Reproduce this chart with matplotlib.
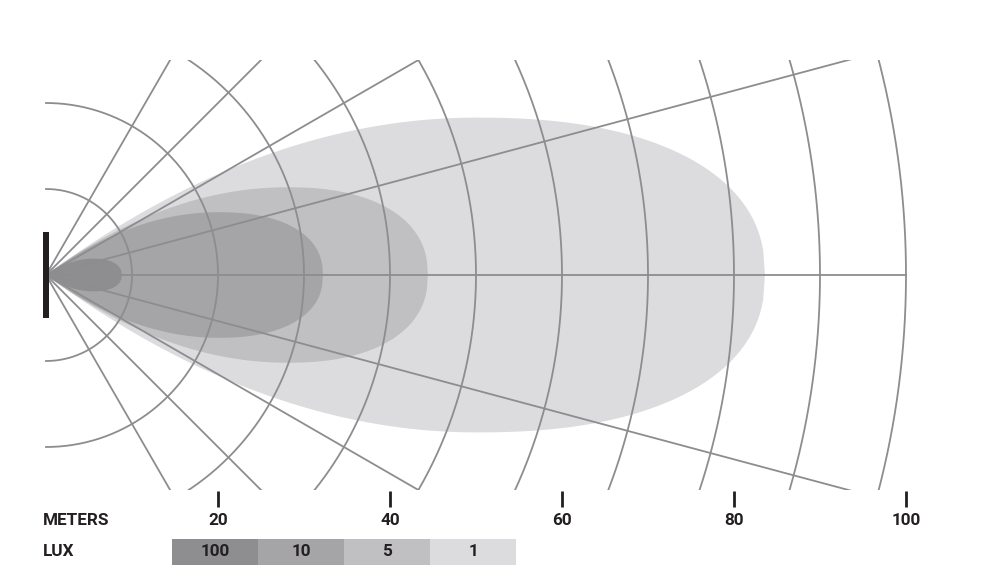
import numpy as np
import matplotlib
matplotlib.use("Agg")
import matplotlib.pyplot as plt
from matplotlib.patches import Rectangle

# Lux levels, darkest (brightest light) first
lux_levels = [100, 10, 5, 1]
lux_colors = ["#8e8e90", "#a5a5a7", "#c0c0c2", "#dcdcde"]
lobe_reach = [8.8, 32.2, 44.4, 83.6]      # metres along the beam axis
lobe_halfwidth = [1.9, 7.3, 10.2, 18.3]   # metres, widest point
lobe_peak = [5.5, 20.0, 28.0, 50.0]       # metres, where the lobe is widest

meter_ticks = [20, 40, 60, 80, 100]
ring_radii = [10, 20, 30, 40, 50, 60, 70, 80, 90, 100]
spoke_angles = [-60, -45, -30, -15, 0, 15, 30, 45, 60]

GRID = "#8d8d8f"
INK = "#231f20"
PX = 8.6  # pixels per metre
X0, Y0 = 46, 275  # origin in pixels

fig = plt.figure(figsize=(10, 5.76), dpi=100)
ax = fig.add_axes([0, 0, 1, 1])
ax.set_xlim(-X0 / PX, (1000 - X0) / PX)
ax.set_ylim(-(576 - Y0) / PX, Y0 / PX)
ax.axis("off")


def lobe(reach, half, peak, e=2.3):
    xl = np.linspace(0, peak, 120)
    hl = half * (1 - (1 - xl / peak) ** 2)
    xr = np.linspace(peak, reach, 160)
    hr = half * np.clip(1 - ((xr - peak) / (reach - peak)) ** e, 0, 1) ** (1 / e)
    xs = np.concatenate([xl, xr[1:]])
    hs = np.concatenate([hl, hr[1:]])
    return np.concatenate([xs, xs[::-1]]), np.concatenate([hs, -hs[::-1]])


# biggest lobe first so the brighter ones sit on top
for i in reversed(range(len(lux_levels))):
    lx, ly = lobe(lobe_reach[i], lobe_halfwidth[i], lobe_peak[i])
    ax.fill(lx, ly, color=lux_colors[i], lw=0, zorder=1)

clip = Rectangle((-10, -25), 130, 50, transform=ax.transData)

t = np.linspace(-np.pi / 2, np.pi / 2, 400)
for r in ring_radii:
    ln, = ax.plot(r * np.cos(t), r * np.sin(t), color=GRID, lw=1.3, zorder=2)
    ln.set_clip_path(clip)

for a in spoke_angles:
    rad = np.radians(a)
    ln, = ax.plot([0, 100 * np.cos(rad)], [0, 100 * np.sin(rad)], color=GRID, lw=1.3, zorder=2)
    ln.set_clip_path(clip)

# the lamp
ax.add_patch(Rectangle((-0.4, -5), 0.8, 10, color=INK, lw=0, zorder=3))

font = dict(family=["Roboto", "DejaVu Sans"], fontweight="bold", color=INK, fontsize=12.3)

for m in meter_ticks:
    ax.plot([m, m], [-25.1, -27.0], color=INK, lw=2, solid_capstyle="butt")
    ax.text(m, -28.5, str(m), ha="center", va="center", **font)

ax.text(-0.35, -28.5, "METERS", ha="left", va="center", **font)
ax.text(-0.35, -32.2, "LUX", ha="left", va="center", **font)

box_x0 = (172 - X0) / PX
for i, lvl in enumerate(lux_levels):
    ax.add_patch(Rectangle((box_x0 + 10 * i, -33.7), 10, 3.0, color=lux_colors[i], lw=0))
    ax.text(box_x0 + 10 * i + 5, -32.2, str(lvl), ha="center", va="center", **font)

fig.savefig("out.png", dpi=100)
